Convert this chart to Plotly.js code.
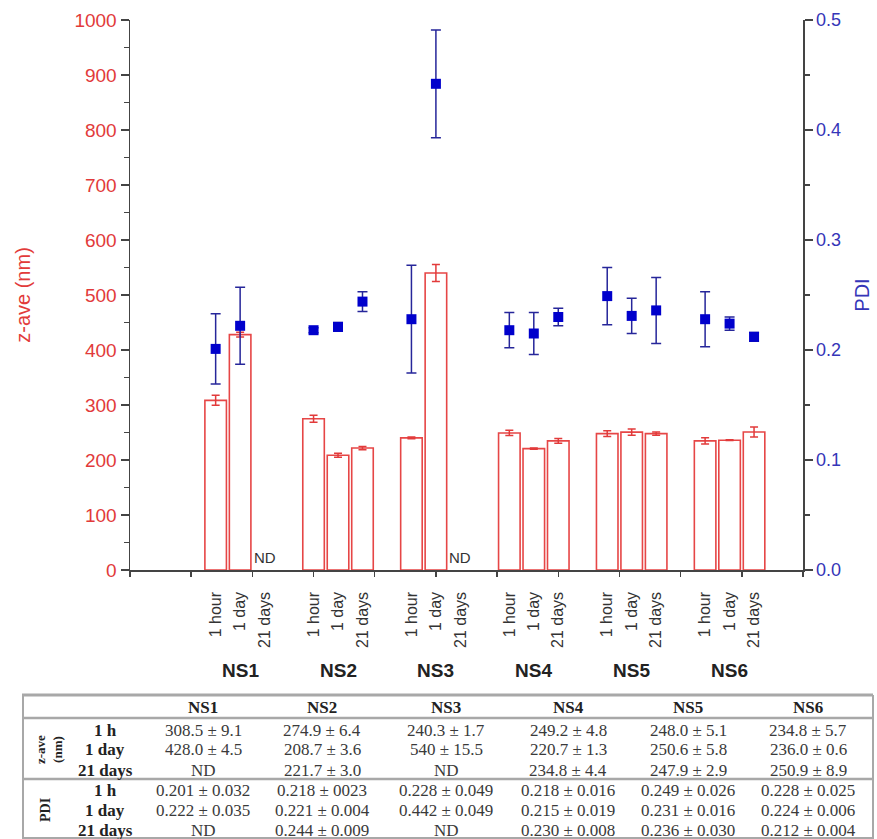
<!DOCTYPE html>
<html><head><meta charset="utf-8">
<script src="https://cdn.plot.ly/plotly-3.0.1.min.js"></script>
<style>html,body{margin:0;padding:0;background:#fff}#chart{width:877px;height:839px}</style>
</head><body><div id="chart"></div>
<script>
// ---- data ----
const groups = ['NS1','NS2','NS3','NS4','NS5','NS6'];
const times = ['1 hour','1 day','21 days'];
const rowLabels = ['1 h','1 day','21 days'];

const zave1h     = [308.5, 274.9, 240.3, 249.2, 248.0, 234.8];
const zave1hErr  = [9.1, 6.4, 1.7, 4.8, 5.1, 5.7];
const zave1d     = [428.0, 208.7, 540.0, 220.7, 250.6, 236.0];
const zave1dErr  = [4.5, 3.6, 15.5, 1.3, 5.8, 0.6];
const zave21d    = [null, 221.7, null, 234.8, 247.9, 250.9];
const zave21dErr = [null, 3.0, null, 4.4, 2.9, 8.9];

const pdi1h     = [0.201, 0.218, 0.228, 0.218, 0.249, 0.228];
const pdi1hErr  = [0.032, 0.0023, 0.049, 0.016, 0.026, 0.025];
const pdi1d     = [0.222, 0.221, 0.442, 0.215, 0.231, 0.224];
const pdi1dErr  = [0.035, 0.004, 0.049, 0.019, 0.016, 0.006];
const pdi21d    = [null, 0.244, null, 0.230, 0.236, 0.212];
const pdi21dErr = [null, 0.009, null, 0.008, 0.030, 0.004];

// table cell texts (as printed)
const zaveText = [
  ['308.5 ± 9.1','274.9 ± 6.4','240.3 ± 1.7','249.2 ± 4.8','248.0 ± 5.1','234.8 ± 5.7'],
  ['428.0 ± 4.5','208.7 ± 3.6','540 ± 15.5','220.7 ± 1.3','250.6 ± 5.8','236.0 ± 0.6'],
  ['ND','221.7 ± 3.0','ND','234.8 ± 4.4','247.9 ± 2.9','250.9 ± 8.9']
];
const pdiText = [
  ['0.201 ± 0.032','0.218 ± 0023','0.228 ± 0.049','0.218 ± 0.016','0.249 ± 0.026','0.228 ± 0.025'],
  ['0.222 ± 0.035','0.221 ± 0.004','0.442 ± 0.049','0.215 ± 0.019','0.231 ± 0.016','0.224 ± 0.006'],
  ['ND','0.244 ± 0.009','ND','0.230 ± 0.008','0.236 ± 0.030','0.212 ± 0.004']
];

// ---- build flattened series ----
const zSeries = [zave1h, zave1d, zave21d], zErr = [zave1hErr, zave1dErr, zave21dErr];
const pSeries = [pdi1h, pdi1d, pdi21d], pErr = [pdi1hErr, pdi1dErr, pdi21dErr];
const xs = [], labels = [], zy = [], ze = [], py_ = [], pe = [];
groups.forEach((g, gi) => {
  times.forEach((t, ti) => {
    xs.push(4 + 4*gi + ti);
    labels.push(t);
    zy.push(zSeries[ti][gi]); ze.push(zErr[ti][gi]);
    py_.push(pSeries[ti][gi]); pe.push(pErr[ti][gi]);
  });
});

const RED = '#e23a3a', BLUE = '#3535b8', AX = '#444';
const SANS = 'Liberation Sans, Arial, sans-serif';
const SERIF = 'Liberation Serif, Times New Roman, serif';

const bars = {
  type: 'bar', x: xs, y: zy, xaxis: 'x', yaxis: 'y', width: 0.88,
  marker: {color: 'rgba(255,255,255,0)', line: {color: '#e64646', width: 1.6}},
  error_y: {type: 'data', array: ze, visible: true, color: RED, thickness: 1.5, width: 4},
  showlegend: false, hoverinfo: 'x+y'
};
const pts = {
  type: 'scatter', mode: 'markers', x: xs, y: py_, xaxis: 'x2', yaxis: 'y2',
  marker: {symbol: 'square', size: 10, color: '#0000cc'},
  error_y: {type: 'data', array: pe, visible: true, color: '#26269a', thickness: 1.5, width: 5},
  showlegend: false
};

// pixel -> paper helpers (plot area: x 130..803, y 20..570)
const L = 130, R = 803, T = 20, B = 570;
const PX = x => (x - L) / (R - L);
const PY = y => (B - y) / (B - T);

const ann = [];
const A = o => ann.push(Object.assign({showarrow: false, xanchor: 'center', yanchor: 'middle'}, o));
// ND labels above missing bars
xs.forEach((x, i) => {
  if (zy[i] === null) A({x: x, y: 0, xref: 'x', yref: 'y', text: 'ND',
    yanchor: 'bottom', yshift: 2, font: {family: SANS, size: 15, color: '#333'}});
});
// group labels
groups.forEach((g, gi) => A({x: 5 + 4*gi, y: PY(670), xref: 'x', yref: 'paper', text: '<b>' + g + '</b>',
  font: {family: SANS, size: 19, color: '#222'}}));

// table
const colX = [203, 322, 446, 568, 688, 808];
const headY = 707, zRowY = [730, 750, 770], pRowY = [790, 810, 830];
const tf = {family: SERIF, size: 17, color: '#3a3a3a'};
const tfb = {family: SERIF, size: 17, color: '#222'};
groups.forEach((g, gi) => A({x: PX(colX[gi]), y: PY(headY), xref: 'paper', yref: 'paper',
  text: '<b>' + g + '</b>', font: tfb}));
rowLabels.forEach((r, ri) => {
  A({x: PX(105), y: PY(zRowY[ri]), xref: 'paper', yref: 'paper', text: '<b>' + r + '</b>', font: tfb});
  A({x: PX(105), y: PY(pRowY[ri]), xref: 'paper', yref: 'paper', text: '<b>' + r + '</b>', font: tfb});
  groups.forEach((g, gi) => {
    A({x: PX(colX[gi]), y: PY(zRowY[ri]), xref: 'paper', yref: 'paper', text: zaveText[ri][gi], font: tf});
    A({x: PX(colX[gi]), y: PY(pRowY[ri]), xref: 'paper', yref: 'paper', text: pdiText[ri][gi], font: tf});
  });
});
A({x: PX(49), y: PY(750), xref: 'paper', yref: 'paper', text: '<b>z-ave<br>(nm)</b>', textangle: -90,
  font: {family: SERIF, size: 13, color: '#222'}});
A({x: PX(45), y: PY(810), xref: 'paper', yref: 'paper', text: '<b>PDI</b>', textangle: -90,
  font: {family: SERIF, size: 14, color: '#222'}});

const lineC = '#a8a8a8';
const hl = (y, w) => ({type: 'line', xref: 'paper', yref: 'paper', x0: PX(22), x1: PX(873), y0: PY(y), y1: PY(y), line: {color: lineC, width: w}});
const vl = x => ({type: 'line', xref: 'paper', yref: 'paper', x0: PX(x), x1: PX(x), y0: PY(695), y1: PY(839), line: {color: lineC, width: 2}});
const shapes = [hl(695, 3), hl(718, 2.5), hl(779, 2.5), hl(838, 2), vl(23), vl(873)];

const layout = {
  width: 877, height: 839,
  margin: {l: L, r: 877 - R, t: T, b: 839 - B, pad: 0},
  paper_bgcolor: '#fff', plot_bgcolor: '#fff',
  font: {family: SANS},
  xaxis: {range: [0.5, 28], tickmode: 'array', tickvals: xs, ticktext: labels, tickangle: -90,
    ticks: 'outside', ticklen: 14, tickcolor: 'rgba(0,0,0,0)',
    tickfont: {family: SANS, size: 16, color: '#333'},
    showline: true, linecolor: AX, linewidth: 1.5, showgrid: false, zeroline: false, fixedrange: true},
  xaxis2: {range: [0.5, 28], overlaying: 'x', anchor: 'y2', tickmode: 'linear', tick0: 0.5, dtick: 2.5,
    ticks: 'outside', ticklen: 6, tickwidth: 1.5, tickcolor: AX, showticklabels: false,
    showline: false, showgrid: false, zeroline: false, fixedrange: true},
  yaxis: {range: [0, 1000], dtick: 100, ticks: 'outside', ticklen: 8, tickwidth: 1.5, tickcolor: AX,
    minor: {dtick: 50, ticks: 'outside', ticklen: 5, tickwidth: 1.5, tickcolor: AX},
    showline: true, linecolor: AX, linewidth: 1.5, showgrid: false, zeroline: false,
    tickfont: {family: SANS, size: 19, color: RED},
    title: {text: 'z-ave (nm)', font: {family: SANS, size: 20, color: RED}, standoff: 38}, fixedrange: true},
  yaxis2: {range: [0, 0.5], dtick: 0.1, tickformat: '.1f', overlaying: 'y', side: 'right', anchor: 'x',
    ticks: 'outside', ticklen: 8, tickwidth: 1.5, tickcolor: AX,
    minor: {dtick: 0.05, ticks: 'outside', ticklen: 5, tickwidth: 1.5, tickcolor: AX},
    showline: true, linecolor: AX, linewidth: 1.5, showgrid: false, zeroline: false,
    tickfont: {family: SANS, size: 18, color: BLUE},
    title: {text: 'PDI', font: {family: SANS, size: 20, color: BLUE}, standoff: 15}, fixedrange: true},
  annotations: ann,
  shapes: shapes,
  showlegend: false
};

Plotly.newPlot('chart', [bars, pts], layout, {displayModeBar: false, staticPlot: true});
</script>
</body></html>
